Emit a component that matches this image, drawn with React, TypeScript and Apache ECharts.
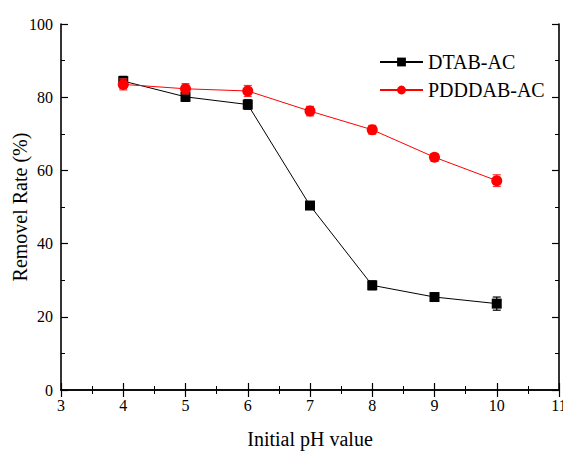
import React, { useEffect, useRef } from "react";
import * as echarts from "echarts";

const phValues = [4, 5, 6, 7, 8, 9, 10];
const dtabRate = [84.4, 80.1, 78.0, 50.4, 28.6, 25.4, 23.6];
const dtabErr = [1.3, 1.2, 1.3, 0.6, 1.2, 1.0, 1.8];
const pdddabRate = [83.5, 82.3, 81.7, 76.2, 71.1, 63.6, 57.2];
const pdddabErr = [1.5, 1.4, 1.5, 1.3, 1.2, 1.0, 1.6];

const FONT = "Liberation Serif";

function errorSeries(name: string, values: number[], errs: number[], color: string) {
  return {
    type: "custom",
    name: name + "-err",
    silent: true,
    z: name === "DTAB-AC" ? 2 : 4,
    data: phValues.map((x, i) => [x, values[i] - errs[i], values[i] + errs[i]]),
    renderItem: (_params: any, api: any) => {
      const lo = api.coord([api.value(0), api.value(1)]);
      const hi = api.coord([api.value(0), api.value(2)]);
      const half = 4;
      const style = { stroke: color, lineWidth: 1.2 };
      return {
        type: "group",
        children: [
          { type: "line", shape: { x1: lo[0], y1: lo[1], x2: hi[0], y2: hi[1] }, style },
          { type: "line", shape: { x1: lo[0] - half, y1: lo[1], x2: lo[0] + half, y2: lo[1] }, style },
          { type: "line", shape: { x1: hi[0] - half, y1: hi[1], x2: hi[0] + half, y2: hi[1] }, style },
        ],
      };
    },
  };
}

export default function App() {
  const ref = useRef<HTMLDivElement>(null);
  useEffect(() => {
    const chart = echarts.init(ref.current!, null, { renderer: "svg" });
    const axisCommon = {
      type: "value",
      axisLine: { show: true, lineStyle: { color: "#000", width: 1.6 } },
      axisTick: { show: true, inside: true, length: 7, lineStyle: { color: "#000", width: 1.2 } },
      minorTick: { show: true, splitNumber: 2, length: 4, lineStyle: { color: "#000", width: 1 } },
      splitLine: { show: false },
    };
    const labelStyle = { fontFamily: FONT, fontSize: 16, color: "#000" };
    const nameStyle = { fontFamily: FONT, fontSize: 20, color: "#000" };
    chart.setOption({
      animation: false,
      backgroundColor: "#fff",
      textStyle: { fontFamily: FONT, color: "#000" },
      grid: { left: 61, right: 4, top: 24, bottom: 61, containLabel: false, outerBoundsMode: "none" },
      legend: {
        data: ["DTAB-AC", "PDDDAB-AC"],
        orient: "vertical",
        left: 374,
        top: 47,
        itemWidth: 43,
        itemHeight: 11,
        itemGap: 8,
        textStyle: { fontFamily: FONT, fontSize: 20, color: "#000" },
      },
      xAxis: [
        {
          ...axisCommon,
          min: 3,
          max: 11,
          interval: 1,
          position: "bottom",
          name: "Initial pH value",
          nameLocation: "middle",
          nameGap: 39,
          nameTextStyle: nameStyle,
          axisLabel: { ...labelStyle, margin: 7 },
        },
        {
          ...axisCommon,
          min: 3,
          max: 11,
          interval: 1,
          position: "top",
          axisLabel: { show: false },
        },
      ],
      yAxis: [
        {
          ...axisCommon,
          min: 0,
          max: 100,
          interval: 20,
          position: "left",
          name: "Removel Rate (%)",
          nameLocation: "middle",
          nameGap: 31,
          nameMoveOverlap: false,
          nameTextStyle: nameStyle,
          axisLabel: { ...labelStyle, margin: 8 },
        },
        {
          ...axisCommon,
          min: 0,
          max: 100,
          interval: 20,
          position: "right",
          axisLabel: { show: false },
        },
      ],
      series: [
        errorSeries("DTAB-AC", dtabRate, dtabErr, "#000"),
        {
          type: "line",
          name: "DTAB-AC",
          z: 3,
          data: phValues.map((x, i) => [x, dtabRate[i]]),
          symbol: "rect",
          symbolSize: 10,
          itemStyle: { color: "#000" },
          lineStyle: { color: "#000", width: 1 },
        },
        errorSeries("PDDDAB-AC", pdddabRate, pdddabErr, "#ff3030"),
        {
          type: "line",
          name: "PDDDAB-AC",
          z: 5,
          data: phValues.map((x, i) => [x, pdddabRate[i]]),
          symbol: "circle",
          symbolSize: 11,
          itemStyle: { color: "#ff0000" },
          lineStyle: { color: "#ff0000", width: 1 },
        },
      ],
    });
    return () => chart.dispose();
  }, []);
  return <div ref={ref} style={{ width: 563, height: 451, position: "absolute", left: 0, top: 0 }} />;
}
